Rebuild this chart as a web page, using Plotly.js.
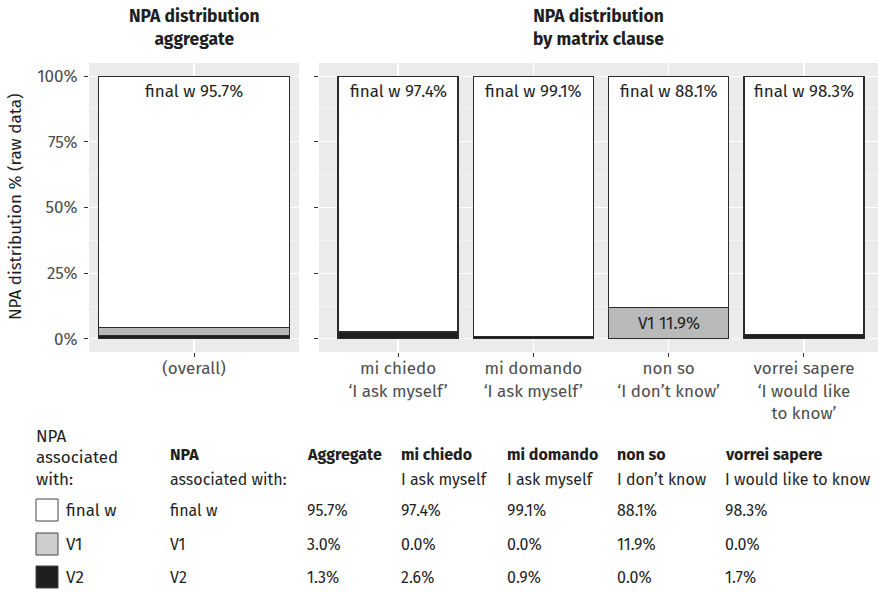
<!DOCTYPE html>
<html>
<head>
<meta charset="utf-8">
<script src="https://cdn.plot.ly/plotly-3.0.1.min.js"></script>
<style>html,body{margin:0;padding:0;background:#fff}#chart{width:878px;height:592px}</style>
</head>
<body>
<div id="chart"></div>
<script>
// ---- data ----
const categories = ['(overall)', 'mi chiedo', 'mi domando', 'non so', 'vorrei sapere'];
const categoryGloss = ['', 'I ask myself', 'I ask myself', 'I don\u2019t know', 'I would like to know'];
const tickLabels = ['(overall)', 'mi chiedo<br>\u2018I ask myself\u2019', 'mi domando<br>\u2018I ask myself\u2019', 'non so<br>\u2018I don\u2019t know\u2019', 'vorrei sapere<br>\u2018I would like<br>to know\u2019'];
const tableHeaders = ['Aggregate', 'mi chiedo', 'mi domando', 'non so', 'vorrei sapere'];
const seriesNames = ['final w', 'V1', 'V2'];
const finalW = [95.7, 97.4, 99.1, 88.1, 98.3];
const v1 = [3.0, 0.0, 0.0, 11.9, 0.0];
const v2 = [1.3, 2.6, 0.9, 0.0, 1.7];
const yTicks = [0, 25, 50, 75, 100];
const yTickText = ['0%', '25%', '50%', '75%', '100%'];

// ---- styling ----
const FONT = '"Fira Sans", "Open Sans", "Noto Sans", sans-serif';
const W = 878, H = 592;
const fills = {'final w': '#ffffff', 'V1': '#b9b9b9', 'V2': '#1e1e1e'};
const keyFills = {'final w': '#ffffff', 'V1': '#cdcdcd', 'V2': '#1e1e1e'};
const lineCol = '#2b2b2b';
const TXT = '#1f1f1f';
const px = x => x / W;
const py = y => 1 - y / H;

const seriesVals = {'final w': finalW, 'V1': v1, 'V2': v2};
const stackOrder = ['V2', 'V1', 'final w'];

const traces = [];
stackOrder.forEach(name => {
  const vals = seriesVals[name];
  traces.push({
    type: 'bar', name: name, showlegend: false,
    x: [0], y: [vals[0]], width: 1.0,
    xaxis: 'x', yaxis: 'y',
    marker: {color: fills[name], line: {color: lineCol, width: 1.1}},
    hoverinfo: 'skip'
  });
  traces.push({
    type: 'bar', name: name, showlegend: false,
    x: [1, 2, 3, 4], y: vals.slice(1), width: 0.887,
    xaxis: 'x2', yaxis: 'y2',
    marker: {color: fills[name], line: {color: lineCol, width: 1.1}},
    hoverinfo: 'skip'
  });
});

const annotations = [];
const barFont = {family: FONT, size: 17, color: TXT};
categories.forEach((c, i) => {
  const xr = i === 0 ? 'x' : 'x2', yr = i === 0 ? 'y' : 'y2';
  const xv = i === 0 ? 0 : i;
  annotations.push({xref: xr, yref: yr, x: xv, y: 100, yanchor: 'top', xanchor: 'center', yshift: -3,
    text: 'final w ' + finalW[i].toFixed(1) + '%', showarrow: false, font: barFont});
  const base = v2[i];
  if (v1[i] >= 5) {
    annotations.push({xref: xr, yref: yr, x: xv, y: base + v1[i] / 2, yanchor: 'middle', xanchor: 'center',
      text: 'V1 ' + v1[i].toFixed(1) + '%', showarrow: false, font: barFont});
  }
});

// panel titles
const titleFont = {family: FONT, size: 17.5, color: TXT};
annotations.push({xref: 'paper', yref: 'paper', x: px(194), y: py(28), xanchor: 'center', yanchor: 'middle',
  text: '<b>NPA distribution<br>aggregate</b>', showarrow: false, font: titleFont});
annotations.push({xref: 'paper', yref: 'paper', x: px(598), y: py(28), xanchor: 'center', yanchor: 'middle',
  text: '<b>NPA distribution<br>by matrix clause</b>', showarrow: false, font: titleFont});
// y-axis title
annotations.push({xref: 'paper', yref: 'paper', x: px(15), y: py(207), xanchor: 'center', yanchor: 'middle', textangle: -90,
  text: 'NPA distribution % (raw data)', showarrow: false, font: {family: FONT, size: 17, color: TXT}});

// legend (manual)
const lfont = {family: FONT, size: 17, color: TXT};
const tfont = {family: FONT, size: 16, color: TXT};
const legTitleY = [436, 457, 479];
['NPA', 'associated', 'with:'].forEach((t, k) => {
  annotations.push({xref: 'paper', yref: 'paper', x: px(34), y: py(legTitleY[k]), xanchor: 'left', yanchor: 'middle', text: t, showarrow: false, font: lfont});
});
const rowY = [510, 544, 577];
const shapes = [];
seriesNames.forEach((n, k) => {
  shapes.push({type: 'rect', xref: 'paper', yref: 'paper', x0: px(36), x1: px(58), y0: py(rowY[k] - 11), y1: py(rowY[k] + 11),
    fillcolor: keyFills[n], line: {color: '#444', width: 1}});
  annotations.push({xref: 'paper', yref: 'paper', x: px(64), y: py(rowY[k]), xanchor: 'left', yanchor: 'middle', text: n, showarrow: false, font: lfont});
});

// table
const colX = [305, 399, 505, 615, 723];
const hdrY = 455, subY = 479;
annotations.push({xref: 'paper', yref: 'paper', x: px(168), y: py(hdrY), xanchor: 'left', yanchor: 'middle', text: '<b>NPA</b>', showarrow: false, font: tfont});
annotations.push({xref: 'paper', yref: 'paper', x: px(168), y: py(subY), xanchor: 'left', yanchor: 'middle', text: 'associated with:', showarrow: false, font: tfont});
seriesNames.forEach((n, k) => {
  annotations.push({xref: 'paper', yref: 'paper', x: px(168), y: py(rowY[k]), xanchor: 'left', yanchor: 'middle', text: n, showarrow: false, font: tfont});
});
tableHeaders.forEach((h, j) => {
  annotations.push({xref: 'paper', yref: 'paper', x: px(colX[j]), y: py(hdrY), xanchor: 'left', yanchor: 'middle', text: '<b>' + h + '</b>', showarrow: false, font: tfont});
  if (categoryGloss[j]) {
    annotations.push({xref: 'paper', yref: 'paper', x: px(colX[j]), y: py(subY), xanchor: 'left', yanchor: 'middle', text: categoryGloss[j], showarrow: false, font: tfont});
  }
  seriesNames.forEach((n, k) => {
    annotations.push({xref: 'paper', yref: 'paper', x: px(colX[j]), y: py(rowY[k]), xanchor: 'left', yanchor: 'middle',
      text: seriesVals[n][j].toFixed(1) + '%', showarrow: false, font: tfont});
  });
});

const yTop = py(63), yBot = py(352);
const axFont = {family: FONT, size: 17, color: '#4d4d4d'};
const commonY = {
  range: [-5, 105], domain: [yBot, yTop], tickvals: yTicks, ticktext: yTickText,
  showgrid: true, gridcolor: '#ffffff', gridwidth: 1.1, zeroline: false,
  minor: {dtick: 12.5, tick0: 0, showgrid: true, gridcolor: '#ffffff', gridwidth: 0.5, ticks: ''},
  ticks: 'outside', ticklen: 4, tickcolor: '#333333', tickwidth: 1, ticklabelstandoff: 3,
  tickfont: axFont, showline: false, fixedrange: true
};
const commonX = {
  showgrid: true, gridcolor: '#ffffff', gridwidth: 1.1, zeroline: false,
  ticks: 'outside', ticklen: 4, tickcolor: '#333333', tickwidth: 1, ticklabelstandoff: -3,
  tickfont: axFont, showline: false, fixedrange: true
};

const layout = {
  width: W, height: H, margin: {l: 0, r: 0, t: 0, b: 0},
  paper_bgcolor: '#ffffff', plot_bgcolor: '#ebebeb',
  barmode: 'stack', showlegend: false,
  font: {family: FONT, size: 16, color: TXT},
  xaxis: Object.assign({}, commonX, {domain: [px(89), px(299)], range: [-0.55, 0.55], tickvals: [0], ticktext: [tickLabels[0]], anchor: 'y'}),
  xaxis2: Object.assign({}, commonX, {domain: [px(319), 1], range: [0.416, 4.547], tickvals: [1, 2, 3, 4], ticktext: tickLabels.slice(1), anchor: 'y2'}),
  yaxis: Object.assign({}, commonY, {anchor: 'x', showticklabels: true}),
  yaxis2: Object.assign({}, commonY, {anchor: 'x2', showticklabels: false}),
  annotations: annotations, shapes: shapes
};

Plotly.newPlot('chart', traces, layout, {staticPlot: true, displayModeBar: false});
</script>
</body>
</html>
